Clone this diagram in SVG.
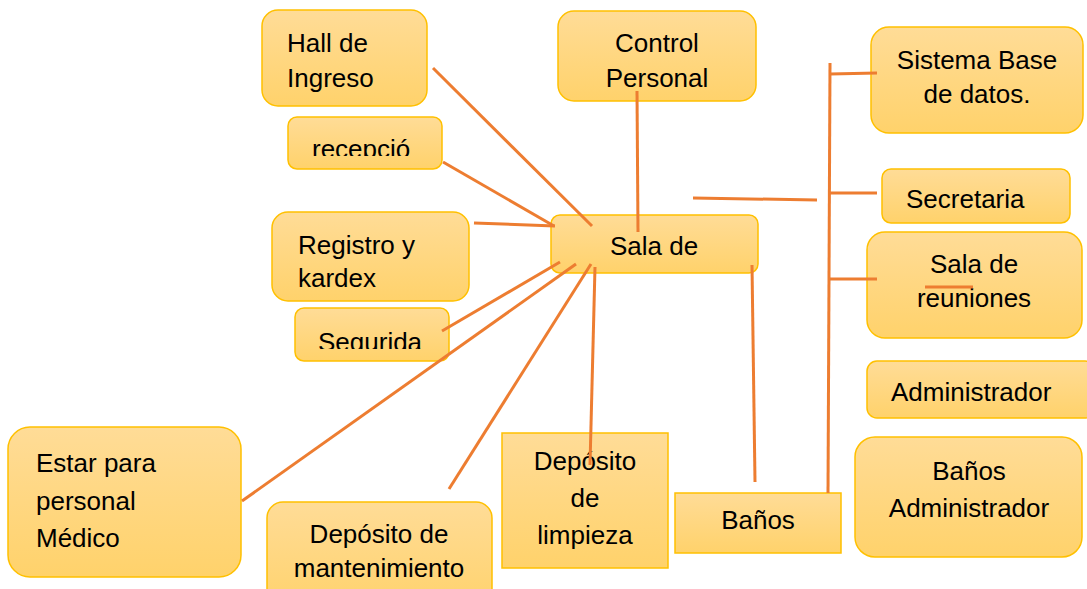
<svg xmlns="http://www.w3.org/2000/svg" width="1087" height="589" viewBox="0 0 1087 589">
<defs>
<linearGradient id="g" x1="0" y1="0" x2="0" y2="1">
<stop offset="0" stop-color="#FFDC97"/>
<stop offset="1" stop-color="#FFD26B"/>
</linearGradient>
<clipPath id="clipRec"><rect x="280" y="110" width="170" height="46"/></clipPath>
<clipPath id="clipSeg"><rect x="290" y="300" width="170" height="49"/></clipPath>
</defs>
<style>
.box{fill:url(#g);stroke:#FFC000;stroke-width:1.5}
text{font-family:"Liberation Sans",Arial,sans-serif;font-size:26px;fill:#000}
.c{text-anchor:middle}
.ln{stroke:#ED7D31;stroke-width:3;fill:none;stroke-linecap:butt}
</style>
<rect width="1087" height="589" fill="#fff"/>

<g id="hall"><rect class="box" x="262" y="10" width="165" height="96" rx="16"/><text x="287" y="52">Hall de</text><text x="287" y="87">Ingreso</text></g>
<g id="control"><rect class="box" x="558" y="11" width="198" height="90" rx="16"/><text class="c" x="657" y="52">Control</text><text class="c" x="657" y="87">Personal</text></g>
<g id="recepcion"><rect class="box" x="288" y="117" width="154" height="52" rx="9"/><text x="312" y="158" clip-path="url(#clipRec)">recepció</text></g>
<g id="registro"><rect class="box" x="272" y="212" width="197" height="89" rx="16"/><text x="298" y="254">Registro y</text><text x="298" y="287">kardex</text></g>
<g id="sala"><rect class="box" x="551" y="215" width="207" height="58" rx="9"/><text class="c" x="654" y="255">Sala de</text></g>
<g id="seguridad"><rect class="box" x="295" y="308" width="154" height="53" rx="9"/><text x="318" y="351" clip-path="url(#clipSeg)">Segurida</text></g>
<g id="estar"><rect class="box" x="8" y="427" width="233" height="150" rx="22"/><text x="36" y="472">Estar para</text><text x="36" y="510">personal</text><text x="36" y="547">Médico</text></g>
<g id="mantenimiento"><rect class="box" x="267" y="502" width="225" height="110" rx="16"/><text class="c" x="379" y="543">Depósito de</text><text class="c" x="379" y="577">mantenimiento</text></g>
<g id="limpieza"><rect class="box" x="502" y="433" width="166" height="135"/><text class="c" x="585" y="470">Depósito</text><text class="c" x="585" y="507">de</text><text class="c" x="585" y="544">limpieza</text></g>
<g id="banos"><rect class="box" x="675" y="493" width="166" height="60"/><text class="c" x="758" y="529">Baños</text></g>
<g id="sistema"><rect class="box" x="871" y="27" width="212" height="106" rx="18"/><text class="c" x="977" y="69">Sistema Base</text><text class="c" x="977" y="103">de datos.</text></g>
<g id="secretaria"><rect class="box" x="882" y="169" width="188" height="54" rx="9"/><text x="906" y="208">Secretaria</text></g>
<g id="reuniones"><rect class="box" x="867" y="232" width="215" height="106" rx="18"/><text class="c" x="974" y="273">Sala de</text><text class="c" x="974" y="307">reuniones</text></g>
<g id="administrador"><rect class="box" x="867" y="361" width="228" height="57" rx="10"/><text x="891" y="401">Administrador</text></g>
<g id="banosadmin"><rect class="box" x="855" y="437" width="227" height="120" rx="20"/><text class="c" x="969" y="480">Baños</text><text class="c" x="969" y="517">Administrador</text></g>

<g id="connectors">
<line class="ln" x1="433" y1="68" x2="592" y2="226"/>
<line class="ln" x1="637" y1="91" x2="638" y2="232"/>
<line class="ln" x1="443" y1="162" x2="554" y2="226"/>
<line class="ln" x1="474" y1="223" x2="555" y2="226"/>
<line class="ln" x1="560" y1="262" x2="442" y2="331"/>
<line class="ln" x1="576" y1="264" x2="242" y2="501"/>
<line class="ln" x1="591" y1="264" x2="449" y2="489"/>
<line class="ln" x1="595" y1="267" x2="590" y2="465"/>
<line class="ln" x1="752" y1="265" x2="755" y2="482"/>
<line class="ln" x1="693" y1="198" x2="817" y2="200"/>
<line class="ln" x1="830" y1="63" x2="828" y2="493"/>
<line class="ln" x1="830" y1="74" x2="877" y2="73"/>
<line class="ln" x1="830" y1="193" x2="877" y2="193"/>
<line class="ln" x1="830" y1="279" x2="877" y2="279"/>
<line class="ln" x1="925" y1="287" x2="973" y2="287" stroke-width="4"/>
</g>
</svg>
